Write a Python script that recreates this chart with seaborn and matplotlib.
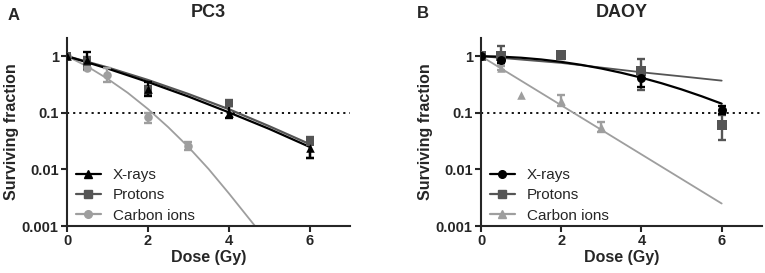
import numpy as np
import pandas as pd
import matplotlib
matplotlib.use('Agg')
import matplotlib.pyplot as plt
import seaborn as sns
from matplotlib.lines import Line2D

# ------------------------------------------------------------ #
# data
# ------------------------------------------------------------ #

# PC3 - measured points (dose, surviving fraction, low, high)
pc3_xray_dose = [0, 0.5, 2, 4, 6]
pc3_xray_sf = [1.0, 0.85, 0.26, 0.10, 0.024]
pc3_xray_lo = [1.0, 0.60, 0.20, 0.08, 0.016]
pc3_xray_hi = [1.0, 1.20, 0.35, 0.13, 0.033]

pc3_prot_dose = [0, 0.5, 2, 4, 6]
pc3_prot_sf = [1.0, 0.80, 0.25, 0.15, 0.030]
pc3_prot_lo = [1.0, 0.65, 0.21, 0.13, 0.016]
pc3_prot_hi = [1.0, 0.95, 0.30, 0.17, 0.038]

pc3_carb_dose = [0, 0.5, 1, 2, 3]
pc3_carb_sf = [1.0, 0.62, 0.47, 0.085, 0.026]
pc3_carb_lo = [1.0, 0.58, 0.35, 0.065, 0.022]
pc3_carb_hi = [1.0, 0.66, 0.62, 0.10, 0.030]

# PC3 - fitted curves, read at fixed doses
fit_dose = [0, 1, 2, 3, 4, 5, 6]
pc3_xray_fit = [1.0, 0.605, 0.35, 0.194, 0.102, 0.052, 0.025]
pc3_prot_fit = [1.0, 0.634, 0.38, 0.215, 0.116, 0.058, 0.028]
pc3_carb_fit_dose = [0, 0.5, 1, 1.5, 2, 2.5, 3, 3.5, 4, 4.65]
pc3_carb_fit = [1.0, 0.66, 0.40, 0.226, 0.117, 0.056, 0.025, 0.0102, 0.0038, 0.001]

# DAOY - measured points
daoy_xray_dose = [0, 0.5, 4, 6]
daoy_xray_sf = [1.0, 0.85, 0.42, 0.11]
daoy_xray_lo = [1.0, 0.75, 0.28, 0.095]
daoy_xray_hi = [1.0, 1.05, 0.60, 0.13]

daoy_prot_dose = [0, 0.5, 2, 4, 6]
daoy_prot_sf = [1.0, 1.0, 1.05, 0.55, 0.06]
daoy_prot_lo = [1.0, 0.75, 0.90, 0.25, 0.033]
daoy_prot_hi = [1.0, 1.50, 1.20, 0.90, 0.09]

daoy_carb_dose = [0, 0.5, 1, 2, 3]
daoy_carb_sf = [1.0, 0.62, 0.21, 0.16, 0.056]
daoy_carb_lo = [1.0, 0.57, 0.21, 0.13, 0.045]
daoy_carb_hi = [1.0, 0.68, 0.21, 0.21, 0.07]

# DAOY - fitted curves
daoy_xray_fit_dose = [0, 0.5, 1, 1.5, 2, 2.5, 3, 3.5, 4, 4.5, 5, 5.5, 6]
daoy_xray_fit = [1.0, 0.981, 0.939, 0.875, 0.794, 0.703, 0.606, 0.509,
                 0.417, 0.333, 0.259, 0.196, 0.145]
daoy_prot_fit = [1.0, 0.87, 0.76, 0.63, 0.52, 0.44, 0.37]
daoy_carb_fit_dose = [0, 6]
daoy_carb_fit = [1.0, 0.0025]

labels = ['X-rays', 'Protons', 'Carbon ions']

# ------------------------------------------------------------ #
# styling
# ------------------------------------------------------------ #

sns.set_style('ticks')
plt.rcParams['font.family'] = ['Liberation Sans', 'DejaVu Sans']

BLACK = '#000000'
DARK = '#555555'
LIGHT = '#9e9e9e'

fig = plt.figure(figsize=(7.65, 2.73), dpi=100)
ax1 = fig.add_axes([0.0876, 0.172, 0.37, 0.689])
ax2 = fig.add_axes([0.6288, 0.172, 0.367, 0.689])


def draw_series(ax, dose, sf, lo, hi, fdose, fsf, color, marker, ms, lw):
    dose = np.array(dose)
    sf = np.array(sf)
    lo = np.array(lo)
    hi = np.array(hi)
    # only points that carry an error bar
    m = hi > lo
    err = [sf[m] - lo[m], hi[m] - sf[m]]
    ax.errorbar(dose[m], sf[m], yerr=err, fmt='none', ecolor=color, elinewidth=1.7,
                capsize=3.2, capthick=1.7, zorder=3)
    pts = pd.DataFrame({'dose': dose, 'sf': sf})
    sns.scatterplot(data=pts, x='dose', y='sf', ax=ax, color=color, marker=marker,
                    s=ms, edgecolor=color, linewidth=0, zorder=4, legend=False)
    fit = pd.DataFrame({'dose': fdose, 'sf': fsf})
    sns.lineplot(data=fit, x='dose', y='sf', ax=ax, color=color, linewidth=lw,
                 zorder=2, legend=False)


draw_series(ax1, pc3_carb_dose, pc3_carb_sf, pc3_carb_lo, pc3_carb_hi,
            pc3_carb_fit_dose, pc3_carb_fit, LIGHT, 'o', 38, 1.3)
draw_series(ax1, pc3_prot_dose, pc3_prot_sf, pc3_prot_lo, pc3_prot_hi,
            fit_dose, pc3_prot_fit, DARK, 's', 38, 1.6)
draw_series(ax1, pc3_xray_dose, pc3_xray_sf, pc3_xray_lo, pc3_xray_hi,
            fit_dose, pc3_xray_fit, BLACK, '^', 38, 1.6)

draw_series(ax2, daoy_carb_dose, daoy_carb_sf, daoy_carb_lo, daoy_carb_hi,
            daoy_carb_fit_dose, daoy_carb_fit, LIGHT, '^', 38, 1.3)
draw_series(ax2, daoy_prot_dose, daoy_prot_sf, daoy_prot_lo, daoy_prot_hi,
            fit_dose, daoy_prot_fit, DARK, 's', 50, 1.3)
draw_series(ax2, daoy_xray_dose, daoy_xray_sf, daoy_xray_lo, daoy_xray_hi,
            daoy_xray_fit_dose, daoy_xray_fit, BLACK, 'o', 42, 1.6)

# legends in listed order
leg1 = [Line2D([], [], color=BLACK, marker='^', markersize=5.5, lw=1.6),
        Line2D([], [], color=DARK, marker='s', markersize=5.5, lw=1.6),
        Line2D([], [], color=LIGHT, marker='o', markersize=5.5, lw=1.6)]
leg2 = [Line2D([], [], color=BLACK, marker='o', markersize=5.5, lw=1.6),
        Line2D([], [], color=DARK, marker='s', markersize=5.5, lw=1.6),
        Line2D([], [], color=LIGHT, marker='^', markersize=5.5, lw=1.6)]

for ax, handles, title in [(ax1, leg1, 'PC3'), (ax2, leg2, 'DAOY')]:
    ax.set_yscale('log')
    ax.set_xlim(0, 7)
    ax.set_ylim(0.001, 2.1)
    ax.set_xticks([0, 2, 4, 6])
    ax.set_yticks([0.001, 0.01, 0.1, 1])
    ax.set_yticklabels(['0.001', '0.01', '0.1', '1'])
    ax.minorticks_off()
    ax.hlines(0.1, 0, 7, colors='black', linestyles=(0, (1.2, 2.2)), linewidth=1.3, zorder=1)
    for s in ['left', 'bottom']:
        ax.spines[s].set_linewidth(1.5)
    sns.despine(ax=ax)
    ax.tick_params(axis='both', direction='out', length=4, width=1.5,
                   labelsize=10.5, pad=2)
    for t in ax.get_xticklabels() + ax.get_yticklabels():
        t.set_fontweight('bold')
    ax.set_xlabel('Dose (Gy)', fontsize=11.5, fontweight='bold', labelpad=1)
    ax.set_ylabel('Surviving fraction', fontsize=11.5, fontweight='bold', labelpad=2)
    ax.set_title(title, fontsize=13, fontweight='bold', pad=15)
    ax.legend(handles, labels, loc='lower left', frameon=False, fontsize=11,
              handlelength=1.6, handletextpad=0.8, labelspacing=0.41,
              borderaxespad=0.2, bbox_to_anchor=(0.0, -0.03))

fig.text(8 / 765, 1 - 15 / 273, 'A', fontsize=12, fontweight='bold', va='center', ha='left')
fig.text(417 / 765, 1 - 14 / 273, 'B', fontsize=12, fontweight='bold', va='center', ha='left')

fig.savefig('out.png', dpi=100)
